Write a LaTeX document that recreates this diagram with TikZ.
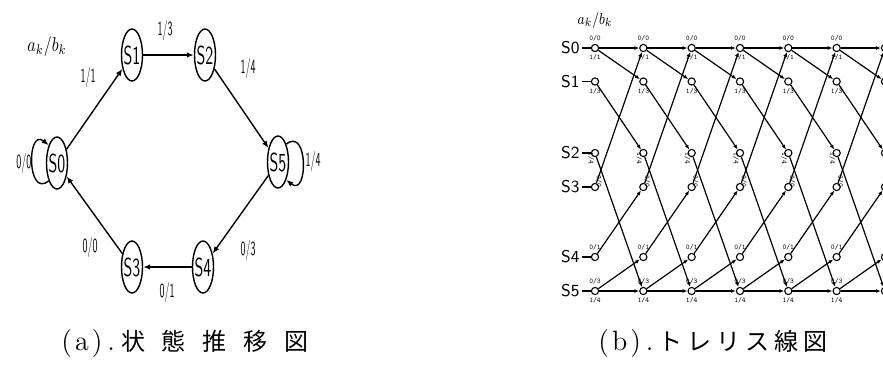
\documentclass[tikz,border=0pt]{standalone}
\usepackage{fontspec}
\usepackage{graphicx}
\usetikzlibrary{arrows.meta,calc,positioning,shapes.geometric}
\newfontfamily\jpfont[LetterSpace=70]{Noto Sans CJK JP}
\newfontfamily\jpfontb[LetterSpace=21]{Noto Sans CJK JP}
\newcommand{\narrowtext}[2][0.62]{\scalebox{#1}[1]{#2}}
\newcommand{\spaced}[3]{#1\hspace{1.5pt}#2\hspace{1.5pt}#3}

\begin{document}
\begin{tikzpicture}[
    x=0.5pt, y=-0.5pt,
    font=\sffamily,
    state/.style={draw, ellipse, line width=0.7pt, minimum width=10.5pt, minimum height=26pt, inner sep=0pt,
      font=\fontsize{13}{13}\sffamily},
    elabel/.style={font=\fontsize{10}{10}\sffamily, inner sep=0pt},
    dot/.style={draw, circle, line width=0.55pt, minimum size=3.6pt, inner sep=0pt, fill=white},
    rowlabel/.style={font=\fontsize{8.5}{8.5}\sffamily, inner sep=1pt},
    tag/.style={font=\fontsize{3.6}{4}\ttfamily, inner sep=0.4pt},
    caption/.style={font=\fontsize{14}{14}\rmfamily, inner sep=0pt, anchor=west},
    arrow/.style={-{Latex[length=3.5pt,width=2.8pt]}, line width=0.7pt},
    tarrow/.style={-{Latex[length=2.4pt,width=1.9pt]}, line width=0.6pt}
  ]
    \clip (0,0) rectangle (883,372);
    \fill[white] (0,0) rectangle (883,372);

    % (a) state transition diagram
    \node[state] (s0) at (57,163) {\makebox[0pt]{\narrowtext{S0}}};
    \node[state] (s1) at (132,55) {\makebox[0pt]{\narrowtext{S1}}};
    \node[state] (s2) at (205,55) {\makebox[0pt]{\narrowtext{S2}}};
    \node[state] (s3) at (132,267) {\makebox[0pt]{\narrowtext{S3}}};
    \node[state] (s4) at (203,267) {\makebox[0pt]{\narrowtext{S4}}};
    \node[state] (s5) at (278,162) {\makebox[0pt]{\narrowtext{S5}}};

    \draw[arrow] (s0) -- (s1);
    \draw[arrow] (s1) -- (s2);
    \draw[arrow] (s2) -- (s5);
    \draw[arrow] (s5) -- (s4);
    \draw[arrow] (s4) -- (s3);
    \draw[arrow] (s3) -- (s0);
    \draw[arrow] (s0.245) .. controls +(-22,18) and +(-22,-18) .. (s0.115);
    \draw[arrow] (s5.65) .. controls +(22,-18) and +(22,18) .. (s5.295);

    \node[elabel] (head) at (47,46) {\narrowtext[0.8]{$a_k/b_k$}};
    \node[elabel] (l01) at (88,77) {\narrowtext[0.5]{1/1}};
    \node[elabel] (l12) at (165,30) {\narrowtext[0.5]{1/3}};
    \node[elabel] (l25) at (248,68) {\narrowtext[0.5]{1/4}};
    \node[elabel] (l00) at (24,163) {\narrowtext[0.5]{0/0}};
    \node[elabel] (l55) at (313,161) {\narrowtext[0.5]{1/4}};
    \node[elabel] (l54) at (248,250) {\narrowtext[0.5]{0/3}};
    \node[elabel] (l43) at (167,292) {\narrowtext[0.5]{0/1}};
    \node[elabel] (l30) at (90,247) {\narrowtext[0.5]{0/0}};

    \node[caption] (capa) at (61,343) {\spaced{(}{a}{)}\hspace{2.5pt}.\hspace{3pt}{\fontsize{12}{14}\jpfont 状態推移図}};

    % (b) trellis diagram
    \foreach \r/\yy in {0/48,1/81.5,2/153,3/187,4/257,5/291} {
      \node[rowlabel, anchor=east] (r\r) at (582,\yy) {S\r};
    }
    \foreach \c in {0,...,6} {
      \foreach \r/\yy in {0/48,1/81.5,2/153,3/187,4/257,5/291} {
        \node[dot] (t\c-\r) at ({595+48.33*\c},\yy) {};
      }
    }
    \foreach \c in {0,...,5} {
      \node[tag, above=0.6pt of t\c-0] (u\c-0) {0/0};
      \node[tag, below=0.6pt of t\c-0] (d\c-0) {1/1};
      \node[tag, below=0.6pt of t\c-1] (d\c-1) {1/3};
      \node[tag, rotate=-90, below=0.6pt of t\c-2] (d\c-2) {1/4};
      \node[tag, rotate=-90, above=0.6pt of t\c-3] (u\c-3) {0/0};
      \node[tag, above=0.6pt of t\c-4] (u\c-4) {0/1};
      \node[tag, above=0.6pt of t\c-5] (u\c-5) {0/3};
      \node[tag, below=0.6pt of t\c-5] (d\c-5) {1/4};
    }
    \foreach \r in {0,...,5} {
      \draw[line width=0.6pt] (r\r) -- (t0-\r);
    }
    \foreach \c [evaluate=\c as \n using int(\c+1)] in {0,...,5} {
      \foreach \a/\b in {0/0,0/1,1/2,2/5,3/0,4/3,5/4,5/5} {
        \draw[tarrow] (t\c-\a) -- (t\n-\b);
      }
    }
    \node[rowlabel] (headb) at (595,20) {\narrowtext[0.8]{$a_k/b_k$}};

    \node[caption] (capb) at (598,343) {\spaced{(}{b}{)}\hspace{2.5pt}.\hspace{2.5pt}{\fontsize{12}{14}\jpfontb トレリス線図}};
\end{tikzpicture}
\end{document}
